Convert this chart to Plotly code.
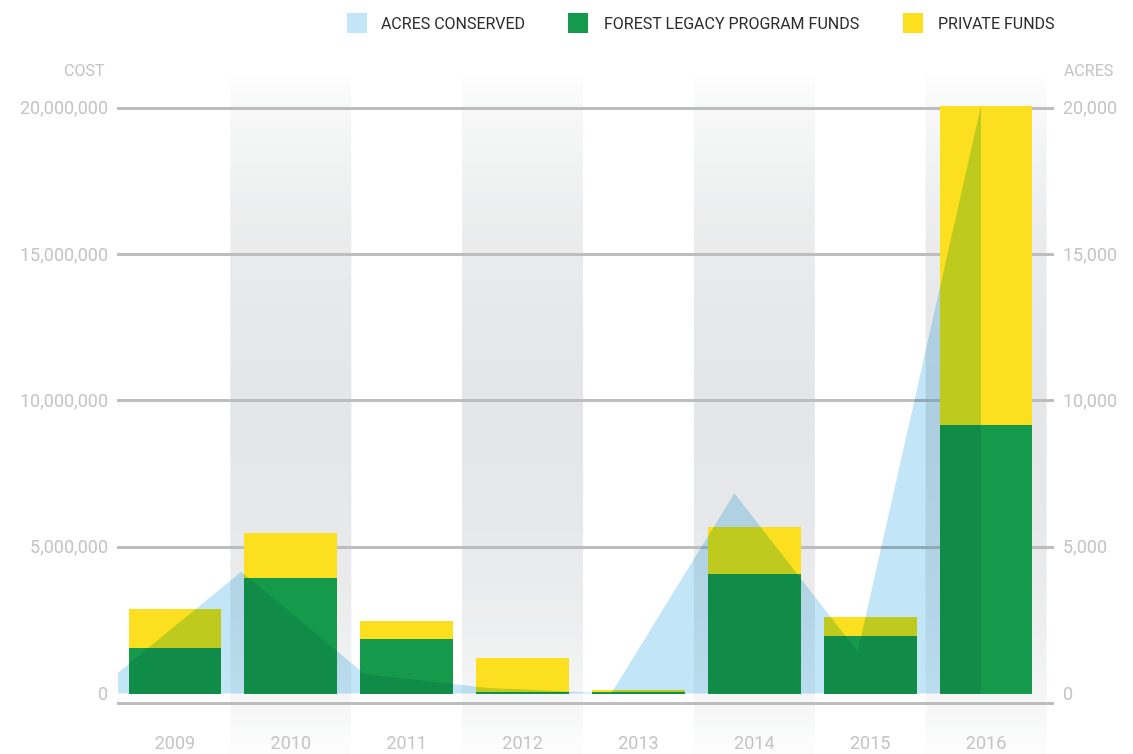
import math
import plotly.graph_objects as go

# ---------------- data ----------------
years = ["2009", "2010", "2011", "2012", "2013", "2014", "2015", "2016"]
forest_legacy_funds = [1565000, 3945000, 1862000, 50000, 40000, 4082000, 1975000, 9170000]
private_funds = [1320000, 1540000, 615000, 1160000, 80000, 1606000, 650000, 10910000]
acres_conserved = [710, 4160, 670, 190, 0, 6840, 1430, 20080]

legend_labels = ["ACRES CONSERVED", "FOREST LEGACY PROGRAM FUNDS", "PRIVATE FUNDS"]
cost_ticks = [0, 5000000, 10000000, 15000000, 20000000]
acre_ticks = [0, 5000, 10000, 15000, 20000]
shaded_years = ["2010", "2012", "2014", "2016"]

# ---------------- style ----------------
GREEN = "#149a4a"
YELLOW = "#fce01f"
BLUE = "#c2e6f8"
GRID = "#bdbdbd"
TICK = "#c4c4c4"
FONT = "Roboto, Arial, sans-serif"

W, H = 1133, 754
L, R, T, B = 117, 79, 95, 52
PW, PH = W - L - R, H - T - B


def px(x):
    return (x - L) / PW


def py(y):
    return (H - B - y) / PH


fig = go.Figure()

fig.add_bar(x=years, y=forest_legacy_funds, name=legend_labels[1],
            marker=dict(color=GREEN, line=dict(width=0)))
fig.add_bar(x=years, y=private_funds, name=legend_labels[2],
            marker=dict(color=YELLOW, line=dict(width=0)))

# acres area sits on its own overlaid axes (edge-to-edge spacing)
fig.add_trace(go.Scatter(
    x=years, y=acres_conserved, name=legend_labels[0],
    xaxis="x2", yaxis="y2", mode="lines", fill="tozeroy",
    fillcolor=BLUE, line=dict(width=0, color=BLUE), hoverinfo="skip",
))

# gradient column bands (drawn as thin strips)
shapes = []
n_strips = 70
top_p, bot_p = py(75), py(754)
for yr in shaded_years:
    i = years.index(yr)
    for k in range(n_strips):
        t = (k + 0.5) / n_strips
        d = 26 * math.sin(math.pi * t) ** 0.7
        col = "rgb(%d,%d,%d)" % (round(255 - d), round(255 - d * 0.96), round(255 - d * 0.92))
        y0 = top_p + (bot_p - top_p) * k / n_strips
        y1 = top_p + (bot_p - top_p) * (k + 1.15) / n_strips
        shapes.append(dict(type="rect", xref="x", yref="paper",
                           x0=i - 0.522, x1=i + 0.522, y0=max(y1, bot_p), y1=y0,
                           fillcolor=col, line=dict(width=0), layer="below"))

# custom legend
legend_colors = [BLUE, GREEN, YELLOW]
legend_sq = [347, 568, 903]
legend_tx = [379, 602, 936]
annotations = []
for lab, c, sx, tx in zip(legend_labels, legend_colors, legend_sq, legend_tx):
    shapes.append(dict(type="rect", xref="paper", yref="paper",
                       x0=px(sx), x1=px(sx + 20), y0=py(33), y1=py(13),
                       fillcolor=c, line=dict(width=0)))
    annotations.append(dict(text=lab, xref="paper", yref="paper", x=px(tx), y=py(23),
                            xanchor="left", yanchor="middle", showarrow=False,
                            font=dict(size=16, color="#2b2b2b", family=FONT)))

annotations.append(dict(text="COST", xref="paper", yref="paper", x=px(107), y=py(70),
                        xanchor="right", yanchor="middle", showarrow=False,
                        font=dict(size=16, color=TICK, family=FONT)))
annotations.append(dict(text="ACRES", xref="paper", yref="paper", x=px(1062), y=py(70),
                        xanchor="left", yanchor="middle", showarrow=False,
                        font=dict(size=16, color=TICK, family=FONT)))

y_lo, y_hi = -290000, 20444000

fig.update_layout(
    width=W, height=H,
    margin=dict(l=L, r=R, t=T, b=B, autoexpand=False),
    paper_bgcolor="white", plot_bgcolor="rgba(0,0,0,0)",
    barmode="stack", bargap=0.2,
    showlegend=False,
    font=dict(family=FONT, color=TICK, size=18),
    xaxis=dict(type="category", range=[-0.5, 7.586], showgrid=False, zeroline=False,
               showline=True, linecolor=GRID, linewidth=3, ticks="", automargin=False,
               ticklabelstandoff=22, tickfont=dict(size=18, color=TICK)),
    xaxis2=dict(type="category", overlaying="x", range=[-0.008, 7.592], visible=False),
    yaxis=dict(range=[y_lo, y_hi], tickvals=cost_ticks, tickformat=",", showgrid=True,
               gridcolor=GRID, gridwidth=3, zeroline=True, zerolinecolor="rgba(0,0,0,0)",
               showline=False, ticks="", automargin=False, ticklabelstandoff=8,
               tickfont=dict(size=18, color=TICK)),
    yaxis2=dict(overlaying="y", side="right", range=[y_lo / 1000, y_hi / 1000],
                tickvals=acre_ticks, tickformat=",", showgrid=False, zeroline=False,
                showline=False, ticks="", automargin=False, ticklabelstandoff=8,
                tickfont=dict(size=18, color=TICK)),
    shapes=shapes,
    annotations=annotations,
)

post = """
var st = document.createElement('style');
st.innerHTML = 'body{margin:0;} .overplot .x2y2{mix-blend-mode:multiply;}';
document.head.appendChild(st);
"""
fig.write_html("out.html", post_script=post, config={"displayModeBar": False})
